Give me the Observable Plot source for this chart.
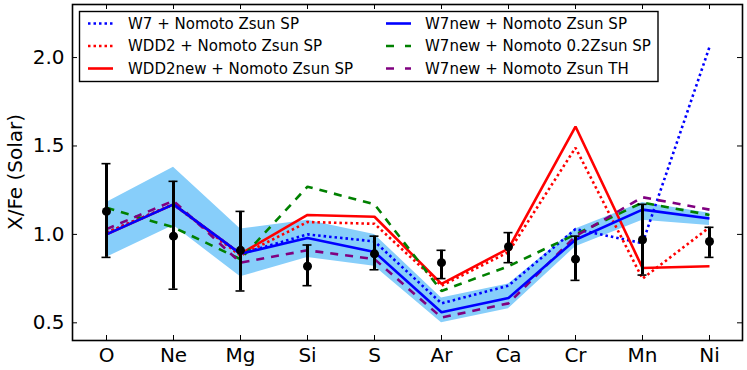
<!DOCTYPE html>
<html>
<head>
<meta charset="utf-8">
<script src="https://cdn.jsdelivr.net/npm/d3@7"></script>
<script src="https://cdn.jsdelivr.net/npm/@observablehq/plot@0.6"></script>
<style>
  html, body { margin: 0; padding: 0; background: #fff; }
  #chart svg { display: block; }
</style>
</head>
<body>
<div id="chart"></div>
<script>
const elements = ["O", "Ne", "Mg", "Si", "S", "Ar", "Ca", "Cr", "Mn", "Ni"];

// Observed abundance ratios with error bars
const obsValue = [1.13, 0.99, 0.91, 0.82, 0.89, 0.84, 0.93, 0.86, 0.97, 0.96];
const obsLow   = [0.87, 0.69, 0.68, 0.71, 0.80, 0.75, 0.84, 0.74, 0.77, 0.87];
const obsHigh  = [1.40, 1.30, 1.13, 0.94, 0.99, 0.91, 1.01, 0.99, 1.17, 1.04];

// Uncertainty band around W7new + Nomoto Zsun SP
const bandLow  = [0.87, 1.05, 0.76, 0.87, 0.82, 0.50, 0.58, 0.93, 1.08, 1.05];
const bandHigh = [1.18, 1.38, 1.03, 1.08, 1.00, 0.64, 0.72, 1.03, 1.18, 1.12];

// Model series
const w7          = [1.01, 1.17, 0.89, 1.00, 0.96, 0.61, 0.71, 1.03, 0.95, 2.06];
const wdd2        = [1.01, 1.17, 0.88, 1.07, 1.06, 0.71, 0.90, 1.49, 0.75, 1.04];
const wdd2new     = [1.00, 1.17, 0.89, 1.11, 1.10, 0.72, 0.92, 1.61, 0.81, 0.82];
const w7new       = [1.00, 1.17, 0.89, 0.98, 0.90, 0.56, 0.64, 0.97, 1.14, 1.09];
const w7new02     = [1.15, 1.04, 0.86, 1.27, 1.17, 0.68, 0.82, 1.00, 1.18, 1.11];
const w7newTH     = [1.03, 1.19, 0.84, 0.91, 0.86, 0.53, 0.61, 0.99, 1.21, 1.14];

const yTicks = [0.5, 1.0, 1.5, 2.0];

const seriesDefs = [
  {name: "W7 + Nomoto Zsun SP",        values: w7,      color: "#0000ff", dash: "2.5,3"},
  {name: "WDD2 + Nomoto Zsun SP",      values: wdd2,    color: "#ff0000", dash: "2.5,3"},
  {name: "WDD2new + Nomoto Zsun SP",   values: wdd2new, color: "#ff0000", dash: null},
  {name: "W7new + Nomoto Zsun SP",     values: w7new,   color: "#0000ff", dash: null},
  {name: "W7new + Nomoto 0.2Zsun SP",  values: w7new02, color: "#008000", dash: "8,7"},
  {name: "W7new + Nomoto Zsun TH",     values: w7newTH, color: "#800080", dash: "8,7"}
];

const obs = elements.map((el, i) => ({el, v: obsValue[i], lo: obsLow[i], hi: obsHigh[i]}));
const band = elements.map((el, i) => ({el, lo: bandLow[i], hi: bandHigh[i]}));

const W = 747, H = 370;
const mL = 72, mR = 5, mT = 4, mB = 30;
const frameW = W - mL - mR, frameH = H - mT - mB;
const tickLen = 5;

const lineMarks = seriesDefs.map(s =>
  Plot.line(elements.map((el, i) => ({el, v: s.values[i]})), {
    x: "el", y: "v", stroke: s.color, strokeWidth: 2.6,
    strokeDasharray: s.dash || undefined, strokeLinecap: "butt", strokeLinejoin: "miter"
  })
);
// draw order: band, then models; solid blue on top of dotted
const order = [0, 1, 2, 4, 5, 3];

const chart = Plot.plot({
  width: W, height: H,
  marginLeft: mL, marginRight: mR, marginTop: mT, marginBottom: mB,
  style: {fontFamily: "DejaVu Sans, sans-serif", background: "#fff", color: "#000"},
  x: {type: "point", domain: elements, padding: 0.5, label: null},
  y: {domain: [0.4, 2.3], label: null},
  marks: [
    Plot.areaY(band, {x: "el", y1: "lo", y2: "hi", fill: "#87cefa", fillOpacity: 1}),
    ...order.map(i => lineMarks[i]),
    Plot.ruleX(obs, {x: "el", y1: "lo", y2: "hi", stroke: "#000", strokeWidth: 3}),
    Plot.ruleY(obs, {y: "hi", x1: "el", x2: "el", insetLeft: -4.5, insetRight: -4.5, stroke: "#000", strokeWidth: 1.6}),
    Plot.ruleY(obs, {y: "lo", x1: "el", x2: "el", insetLeft: -4.5, insetRight: -4.5, stroke: "#000", strokeWidth: 1.6}),
    Plot.dot(obs, {x: "el", y: "v", r: 4.5, fill: "#000", stroke: "none"}),
    // inward ticks on all four sides
    Plot.tickY(yTicks, {y: d => d, insetRight: frameW - tickLen, stroke: "#000", strokeWidth: 1}),
    Plot.tickY(yTicks, {y: d => d, insetLeft: frameW - tickLen, stroke: "#000", strokeWidth: 1}),
    Plot.tickX(elements, {x: d => d, insetTop: frameH - tickLen, stroke: "#000", strokeWidth: 1}),
    Plot.tickX(elements, {x: d => d, insetBottom: frameH - tickLen, stroke: "#000", strokeWidth: 1}),
    Plot.axisY(yTicks, {tickSize: 0, tickPadding: 8, fontSize: 20, tickFormat: d => d.toFixed(1), label: null}),
    Plot.axisX(elements, {tickSize: 0, tickPadding: 7, fontSize: 20, label: null}),
    Plot.frame({stroke: "#000", strokeWidth: 1.6})
  ]
});

const svg = d3.select(chart);

// y-axis title
svg.append("text")
  .attr("transform", `translate(15,${mT + frameH / 2}) rotate(-90)`)
  .attr("text-anchor", "middle")
  .attr("dominant-baseline", "central")
  .attr("font-family", "DejaVu Sans, sans-serif")
  .attr("font-size", 20)
  .attr("fill", "#000")
  .text("X/Fe (Solar)");

// legend (two columns, three rows)
const lg = svg.append("g")
  .attr("font-family", "DejaVu Sans, sans-serif")
  .attr("font-size", 15)
  .attr("text-anchor", "start");
lg.append("rect")
  .attr("x", 79.5).attr("y", 11.5).attr("width", 578.5).attr("height", 70)
  .attr("fill", "#fff").attr("stroke", "#000").attr("stroke-width", 1.4);
const colX = [{s: 88, t: 128}, {s: 386, t: 425}];
const rowY = [23.5, 46, 68.5];
const legendOrder = [[0, 1, 2], [3, 4, 5]];
legendOrder.forEach((col, ci) => {
  col.forEach((si, ri) => {
    const s = seriesDefs[si];
    const y = rowY[ri];
    lg.append("line")
      .attr("x1", colX[ci].s).attr("x2", colX[ci].s + 25)
      .attr("y1", y).attr("y2", y)
      .attr("stroke", s.color).attr("stroke-width", 2.6)
      .attr("stroke-dasharray", s.dash ? (s.dash === "8,7" ? "8,11" : s.dash) : null);
    lg.append("text")
      .attr("x", colX[ci].t).attr("y", y)
      .attr("text-anchor", "start")
      .attr("dominant-baseline", "central")
      .attr("fill", "#000")
      .text(s.name);
  });
});

document.getElementById("chart").appendChild(chart);
</script>
</body>
</html>
